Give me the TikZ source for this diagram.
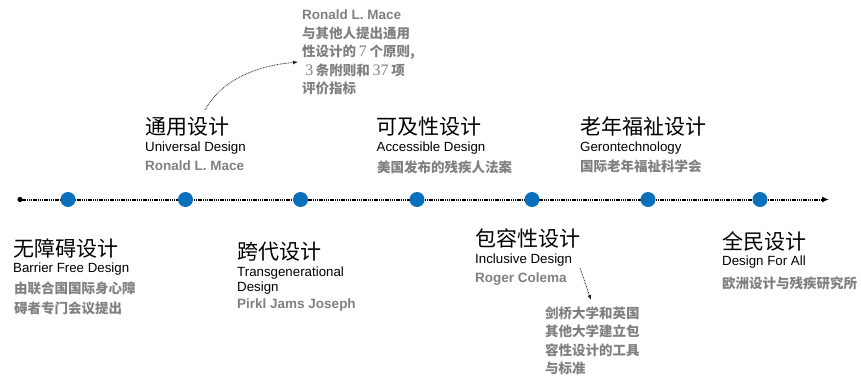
\documentclass[tikz,border=0pt]{standalone}
\usepackage{fontspec}
\setmainfont{Liberation Sans}
\newfontfamily\cjk{Noto Sans CJK SC}
\newfontfamily\serifnum{Liberation Serif}
\usetikzlibrary{arrows.meta}
\definecolor{dotblue}{HTML}{0A70BB}
\definecolor{txtgray}{HTML}{808080}
\begin{document}
\begin{tikzpicture}[x=1pt,y=-1pt,
  title/.style={anchor=base west, inner sep=0pt, font=\cjk\fontsize{21}{21}\selectfont, text=black},
  en/.style={anchor=base west, inner sep=0pt, font=\fontsize{13.3}{13.3}\selectfont, text=black},
  grayen/.style={anchor=base west, inner sep=0pt, font=\bfseries\fontsize{13.5}{13.5}\selectfont, text=txtgray},
  graycn/.style={anchor=base west, inner sep=0pt, font=\cjk\bfseries\fontsize{13.5}{13.5}\selectfont, text=txtgray},
  dotc/.style={circle, fill=dotblue, minimum size=15pt, inner sep=0pt},
  axis/.style={line width=2pt, dash pattern=on 1.3pt off 0.9pt, -{Latex[length=7pt,width=6pt]}},
  note/.style={line width=0.8pt, dash pattern=on 0.8pt off 0.8pt, black!85, -{Latex[length=5pt,width=4pt]}}]
\newcommand{\sn}[1]{{\serifnum\mdseries\fontsize{16}{16}\selectfont #1}}
\useasboundingbox (0,0) rectangle (861,381);

% timeline
\fill (20,199.5) circle (2.6pt);
\coordinate (s) at (20,199.5);
\coordinate (e) at (829,199.5);
\draw[axis] (s) -- (e);
\foreach \n/\x in {c1/68, c2/185.5, c3/300.5, c4/417, c5/532, c6/648, c7/760}
  \node[dotc] (\n) at (\x,199.5) {};

% group 1
\node[title] (t1) at (13,256) {无障碍设计};
\node[en] (e1) at (13,272.8) {Barrier Free Design};
\node[graycn] (g1a) at (14,293.1) {由联合国国际身心障};
\node[graycn] (g1b) at (14,313.1) {碍者专门会议提出};

% group 2
\node[title] (t2) at (145,134.7) {通用设计};
\node[en] (e2) at (145,151.5) {Universal Design};
\node[grayen] (g2) at (145,170.5) {Ronald L. Mace};

% group 3
\node[title] (t3) at (237,259.7) {跨代设计};
\node[en] (e3a) at (237,276.5) {Transgenerational};
\node[en] (e3b) at (237,291.5) {Design};
\node[grayen] (g3) at (237,308.1) {Pirkl Jams Joseph};

% group 4
\node[title] (t4) at (376.5,134.7) {可及性设计};
\node[en] (e4) at (376.5,151.5) {Accessible Design};
\node[graycn] (g4) at (377,172.1) {美国发布的残疾人法案};

% group 5
\node[title] (t5) at (580,134.7) {老年福祉设计};
\node[en] (e5) at (580,151.5) {Gerontechnology};
\node[graycn] (g5) at (580,171.8) {国际老年福祉科学会};

% group 6
\node[title] (t6) at (475,246.3) {包容性设计};
\node[en] (e6) at (475,263.1) {Inclusive Design};
\node[grayen] (g6) at (475,282.5) {Roger Colema};

% group 7
\node[title] (t7) at (722,249.7) {全民设计};
\node[en] (e7) at (722,265.8) {Design For All};
\node[graycn] (g7) at (722,288.1) {欧洲设计与残疾研究所};

% annotation 1
\node[grayen] (a1) at (302,19.8) {Ronald L. Mace};
\node[graycn] (a2) at (302,38.4) {与其他人提出通用};
\node[graycn] (a3) at (302,56.8) {性设计的\sn{\,7\,}个原则,};
\node[graycn] (a4) at (302,75.1) {\ \sn{3\,}条附则和\sn{\,37\,}项};
\node[graycn] (a5) at (302,93.4) {评价指标};
\coordinate (p1) at (205,110);
\coordinate (p2) at (298,62);
\draw[note] (p1) .. controls (222,80) and (255,66) .. (p2);

% annotation 2
\node[graycn] (b1) at (545,318.4) {剑桥大学和英国};
\node[graycn] (b2) at (545,336.8) {其他大学建立包};
\node[graycn] (b3) at (545,355.1) {容性设计的工具};
\node[graycn] (b4) at (545,373.4) {与标准};
\coordinate (q1) at (580,268);
\coordinate (q2) at (591,300);
\draw[note] (q1) -- (q2);
\end{tikzpicture}
\end{document}
